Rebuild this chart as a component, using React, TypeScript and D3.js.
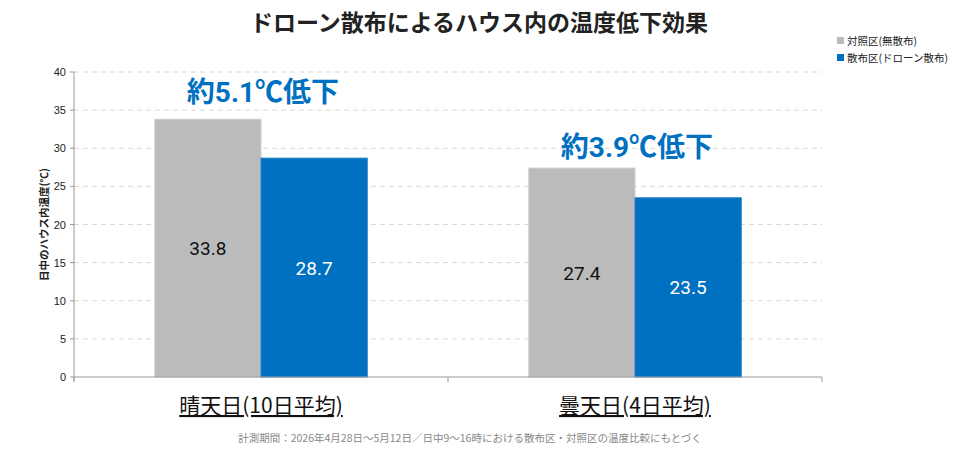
import React from "react";
import * as d3 from "d3";

const categories = ["晴天日(10日平均)", "曇天日(4日平均)"];
const seriesNames = ["対照区(無散布)", "散布区(ドローン散布)"];
const controlValues = [33.8, 27.4];
const sprayValues = [28.7, 23.5];
const annotations = ["約5.1℃低下", "約3.9℃低下"];
const annotationLevels = [37.4, 30.2];
const yTicks = [0, 5, 10, 15, 20, 25, 30, 35, 40];
const colors = ["#BBBBBB", "#0070C0"];
const title = "ドローン散布によるハウス内の温度低下効果";
const yLabel = "日中のハウス内温度(℃)";
const footnote = "計測期間：2026年4月28日～5月12日／日中9～16時における散布区・対照区の温度比較にもとづく";

const W = 958, H = 454;
const margin = { left: 74, right: 136, top: 72, bottom: 77 };
const FONT = "'Noto Sans CJK JP', 'Noto Sans', sans-serif";

export default function App() {
  const x0 = d3.scaleBand().domain(categories).range([margin.left, W - margin.right]).paddingInner(0).paddingOuter(0);
  const x1 = d3.scaleBand().domain(seriesNames).range([0, x0.bandwidth()]).paddingOuter(0.76).paddingInner(0);
  const y = d3.scaleLinear().domain([0, 40]).range([H - margin.bottom, margin.top]);
  const series = [controlValues, sprayValues];
  const baseY = y(0);
  const bw = x1.bandwidth();

  return (
    <svg width={W} height={H} style={{ position: "absolute", left: 0, top: 0, background: "#fff" }} fontFamily={FONT}>
      <text x={479} y={31} textAnchor="middle" fontSize={23} fontWeight={700} fill="#222">{title}</text>
      {yTicks.filter(t => t > 0).map(t => (
        <line key={t} x1={margin.left} x2={W - margin.right} y1={y(t)} y2={y(t)} stroke="#d9d9d9" strokeDasharray="5,4" />
      ))}
      {categories.map((c, ci) => (
        <g key={c}>
          {seriesNames.map((s, si) => {
            const v = series[si][ci];
            const bx = x0(c)! + x1(s)!;
            return (
              <g key={s}>
                <rect x={bx} y={y(v)} width={bw} height={baseY - y(v)} fill={colors[si]} stroke={si === 0 ? "#cfcfcf" : "#1a7fc8"} strokeWidth={1} />
                <text x={bx + bw / 2} y={(y(v) + baseY) / 2 + 7} textAnchor="middle" fontSize={19} fontFamily="Roboto, sans-serif" fill={si === 0 ? "#111" : "#fff"}>{v.toFixed(1)}</text>
              </g>
            );
          })}
          <text x={x0(c)! + x0.bandwidth() / 2 + 2} y={y(annotationLevels[ci]) + 10} textAnchor="middle" fontSize={28} fontWeight={700} fill="#0070C0" fontFamily="Roboto, 'Noto Sans CJK JP', sans-serif">{annotations[ci]}</text>
        </g>
      ))}
      <line x1={margin.left} x2={margin.left} y1={y(40)} y2={baseY + 4} stroke="#999" />
      {yTicks.map(t => (
        <g key={t}>
          <line x1={margin.left - 4} x2={margin.left} y1={y(t)} y2={y(t)} stroke="#999" />
          <text x={margin.left - 8} y={y(t) + 4} textAnchor="end" fontSize={11} fontFamily="'Liberation Sans', Arial, sans-serif" fill="#222">{t}</text>
        </g>
      ))}
      <text transform={`translate(48,${(y(0) + y(40)) / 2}) rotate(-90)`} textAnchor="middle" fontSize={10.5} fontWeight={700} fill="#222">{yLabel}</text>
      <line x1={margin.left} x2={W - margin.right} y1={baseY} y2={baseY} stroke="#999" />
      {[...categories.map(c => x0(c)!), W - margin.right].map((xv, i) => (
        <line key={i} x1={xv} x2={xv} y1={baseY} y2={baseY + 5} stroke="#999" />
      ))}
      {categories.map(c => {
        const cx = x0(c)! + x0.bandwidth() / 2;
        return (
          <text key={c} x={cx} y={413} textAnchor="middle" fontSize={21} fill="#111" textDecoration="underline">{c}</text>
        );
      })}
      <text x={470} y={442} textAnchor="middle" fontSize={10.5} fill="#888">{footnote}</text>
      {seriesNames.map((s, i) => (
        <g key={s} transform={`translate(837,${41 + i * 17})`}>
          <rect x={0} y={-4} width={7} height={7} fill={colors[i]} />
          <text x={10} y={3.5} fontSize={10.5} fill="#222">{s}</text>
        </g>
      ))}
    </svg>
  );
}
